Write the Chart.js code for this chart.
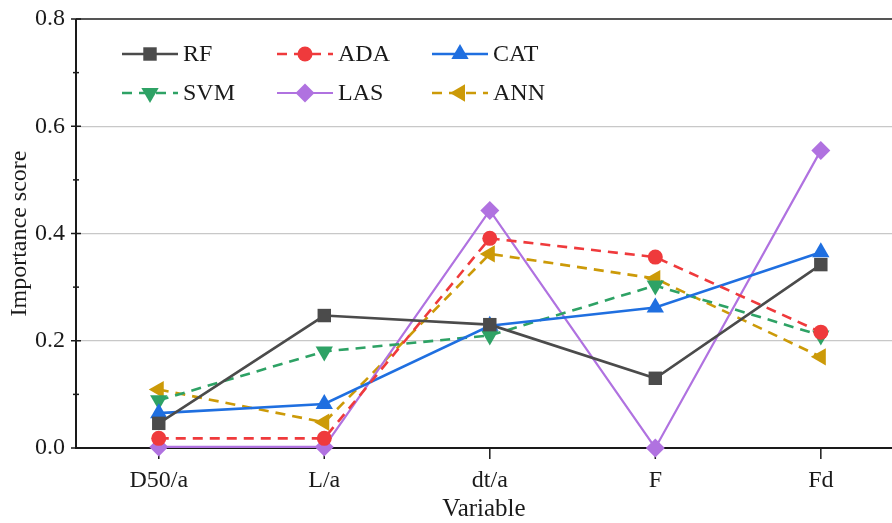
<!DOCTYPE html>
<html>
<head>
<meta charset="utf-8">
<script src="https://cdn.jsdelivr.net/npm/chart.js@4/dist/chart.umd.min.js"></script>
<style>
  html, body { margin: 0; padding: 0; background: #fff; }
  #wrap { width: 892px; height: 523px; position: relative; }
</style>
</head>
<body>
<div id="wrap"><canvas id="chart"></canvas></div>
<script>
const categories = ["D50/a", "L/a", "dt/a", "F", "Fd"];

const rfScores  = [0.046, 0.247, 0.230, 0.130, 0.342];
const adaScores = [0.018, 0.018, 0.391, 0.356, 0.216];
const catScores = [0.065, 0.082, 0.228, 0.262, 0.365];
const svmScores = [0.089, 0.180, 0.210, 0.303, 0.210];
const lasScores = [0.002, 0.002, 0.443, 0.000, 0.555];
const annScores = [0.109, 0.048, 0.362, 0.316, 0.170];

const yTicks = [0, 0.1, 0.2, 0.3, 0.4, 0.5, 0.6, 0.7, 0.8];

const FONT = "'Liberation Serif', 'Times New Roman', serif";

function toPoints(values) {
  return values.map((v, i) => ({ x: i, y: v }));
}

function series(label, values, color, style, opts) {
  return Object.assign({
    label: label,
    data: toPoints(values),
    borderColor: color,
    backgroundColor: color,
    pointBackgroundColor: color,
    pointBorderColor: color,
    pointBorderWidth: 0,
    pointStyle: style,
    pointRadius: 8,
    pointHoverRadius: 8,
    borderWidth: 2.6,
    tension: 0,
    clip: false,
  }, opts || {});
}

const datasets = [
  series("RF", rfScores, "#4b4b4b", "rect", { pointRadius: 9.5 }),
  series("ADA", adaScores, "#ef3a3c", "circle", { borderDash: [10, 7], pointRadius: 7.5 }),
  series("CAT", catScores, "#1f6fe0", "triangle", { pointRadius: 10 }),
  series("SVM", svmScores, "#2ea265", "triangle", { borderDash: [10, 7], pointRotation: 180, pointRadius: 10 }),
  series("LAS", lasScores, "#b072e0", "rectRot", { borderWidth: 2.2, pointRadius: 9.5 }),
  series("ANN", annScores, "#cc9a08", "triangle", { borderDash: [10, 7], pointRotation: 270, pointRadius: 10 }),
];

// axes frame with crossing ticks, like the original plot
const framePlugin = {
  id: "frame",
  beforeDatasetsDraw(chart) {
    const { ctx, chartArea: a, scales: { x, y } } = chart;
    ctx.save();
    ctx.lineCap = "butt";
    // top border
    ctx.strokeStyle = "#555";
    ctx.lineWidth = 2;
    ctx.beginPath();
    ctx.moveTo(a.left, a.top);
    ctx.lineTo(a.right, a.top);
    ctx.stroke();
    // left and bottom axes
    ctx.strokeStyle = "#1a1a1a";
    ctx.beginPath();
    ctx.moveTo(a.left, a.top);
    ctx.lineTo(a.left, a.bottom);
    ctx.lineTo(a.right, a.bottom);
    ctx.stroke();
    // y ticks (major cross, minor cross shorter)
    ctx.lineWidth = 1.5;
    yTicks.forEach((v, i) => {
      const py = y.getPixelForValue(v);
      const len = i % 2 === 0 ? 5 : 3;
      ctx.beginPath();
      ctx.moveTo(a.left - len, py);
      ctx.lineTo(a.left + len, py);
      ctx.stroke();
    });
    // x ticks
    categories.forEach((c, i) => {
      const px = x.getPixelForValue(i);
      ctx.beginPath();
      ctx.moveTo(px, a.bottom);
      ctx.lineTo(px, a.bottom + 11);
      ctx.stroke();
    });
    ctx.restore();
  },
};

// legend drawn as line + marker + label, in two rows of three
const legendPlugin = {
  id: "lineLegend",
  afterDraw(chart) {
    const { ctx } = chart;
    const colX = [122, 277, 432];
    const rowY = [54, 93];
    const lineLen = 56;
    ctx.save();
    chart.data.datasets.forEach((ds, i) => {
      const x0 = colX[i % 3];
      const yy = rowY[Math.floor(i / 3)];
      ctx.strokeStyle = ds.borderColor;
      ctx.lineWidth = ds.borderWidth;
      ctx.setLineDash(ds.borderDash || []);
      ctx.beginPath();
      ctx.moveTo(x0, yy);
      ctx.lineTo(x0 + lineLen, yy);
      ctx.stroke();
      ctx.setLineDash([]);
      ctx.fillStyle = ds.pointBackgroundColor;
      ctx.strokeStyle = ds.pointBorderColor;
      Chart.helpers.drawPoint(ctx, {
        pointStyle: ds.pointStyle,
        rotation: ds.pointRotation || 0,
        radius: ds.pointRadius,
        borderWidth: 0,
      }, x0 + lineLen / 2, yy);
      ctx.fillStyle = "#1a1a1a";
      ctx.font = "24px " + FONT;
      ctx.textAlign = "left";
      ctx.textBaseline = "middle";
      ctx.fillText(ds.label, x0 + lineLen + 5, yy + 1);
    });
    ctx.restore();
  },
};

new Chart(document.getElementById("chart"), {
  type: "line",
  data: { datasets: datasets },
  plugins: [framePlugin, legendPlugin],
  options: {
    responsive: true,
    maintainAspectRatio: false,
    animation: false,
    layout: { autoPadding: false, padding: { top: 19, left: 0, right: 0, bottom: 0 } },
    plugins: {
      legend: { display: false },
      tooltip: { enabled: false },
    },
    scales: {
      x: {
        type: "linear",
        min: -0.5,
        max: 4.43,
        afterFit: (s) => { s.height = 75; s.paddingLeft = 0; s.paddingRight = 0; },
        afterBuildTicks: (s) => { s.ticks = categories.map((c, i) => ({ value: i })); },
        grid: { display: false, drawTicks: false },
        border: { display: false },
        ticks: {
          autoSkip: false,
          maxRotation: 0,
          padding: 18,
          color: "#1a1a1a",
          font: { family: FONT, size: 24 },
          callback: (v) => categories[v] !== undefined ? categories[v] : "",
        },
        title: {
          display: true,
          text: "Variable",
          color: "#1a1a1a",
          font: { family: FONT, size: 25, lineHeight: 1 },
          padding: { top: 0, bottom: 1 },
        },
      },
      y: {
        min: 0,
        max: 0.8,
        afterFit: (s) => { s.width = 76; s.paddingTop = 0; s.paddingBottom = 0; },
        afterBuildTicks: (s) => { s.ticks = yTicks.map((v) => ({ value: v })); },
        grid: {
          drawTicks: false,
          lineWidth: 1.2,
          color: (c) => {
            const v = c.tick ? Math.round(c.tick.value * 10) : -1;
            return v === 2 || v === 4 || v === 6 ? "#c8c8c8" : "rgba(0,0,0,0)";
          },
        },
        border: { display: false },
        ticks: {
          autoSkip: false,
          padding: 11,
          color: "#1a1a1a",
          font: { family: FONT, size: 24 },
          callback: (v) => Math.round(v * 10) % 2 === 0 ? v.toFixed(1) : "",
        },
        title: {
          display: true,
          text: "Importance score",
          color: "#1a1a1a",
          font: { family: FONT, size: 24, lineHeight: 1 },
          padding: { top: 8, bottom: 0 },
        },
      },
    },
  },
});
</script>
</body>
</html>
